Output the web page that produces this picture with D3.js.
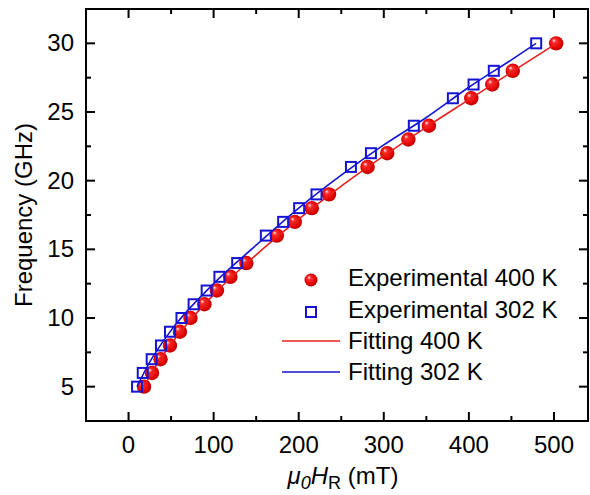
<!DOCTYPE html>
<html>
<head>
<meta charset="utf-8">
<script src="https://cdn.jsdelivr.net/npm/d3@7"></script>
<style>
  body { margin: 0; background: #fff; }
  svg { font-family: "Liberation Sans", Arial, sans-serif; }
</style>
</head>
<body>
<svg id="chart" width="590" height="495"></svg>
<script>
// Data
const freq400 = [5, 6, 7, 8, 9, 10, 11, 12, 13, 14, 16, 17, 18, 19, 21, 22, 23, 24, 26, 27, 28, 30];
const field400 = [18.2, 27.6, 37.6, 48.7, 60.4, 72.8, 89.2, 103.9, 119.7, 138.5, 174.3, 195.4, 215.4, 235.6, 280.9, 304, 328.9, 353, 402.8, 427.5, 451.6, 502.6];

const freq302 = [5, 6, 7, 8, 9, 10, 11, 12, 13, 14, 16, 17, 18, 19, 21, 22, 24, 26, 27, 28, 30];
const field302 = [10, 16.7, 27.2, 38.1, 48.7, 62.2, 76.5, 91.8, 106.8, 127.7, 161.4, 181.7, 200.5, 220.9, 261.4, 284.9, 335.3, 381.2, 405.5, 429.3, 479.1];

// fitted curves
const fitField400 = [18, 30, 50, 100, 150, 200, 250, 300, 350, 400, 450, 503];
const fitFreq400 = [5.0, 6.3, 8.1, 11.7, 14.6, 17.2, 19.6, 21.8, 23.9, 25.9, 27.9, 30.0];
const fitField302 = [10, 25, 50, 100, 150, 200, 250, 300, 350, 400, 450, 479];
const fitFreq302 = [5.0, 6.8, 9.1, 12.5, 15.3, 18.0, 20.4, 22.6, 24.6, 26.8, 28.8, 30.0];

const xTicks = [0, 100, 200, 300, 400, 500];
const xMinor = [50, 150, 250, 350, 450];
const yTicks = [5, 10, 15, 20, 25, 30];
const yMinor = [7.5, 12.5, 17.5, 22.5, 27.5];

const legendLabels = ["Experimental 400 K", "Experimental 302 K", "Fitting 400 K", "Fitting 302 K"];

const red = "#e8201c";
const blue = "#1414d2";

const margin = { top: 9, right: 2, bottom: 74, left: 86 };
const width = 590, height = 495;

let svg = d3.select("#chart");

let x = d3.scaleLinear().domain([-50, 540]).range([margin.left, width - margin.right]);
let y = d3.scaleLinear().domain([2.5, 32.5]).range([height - margin.bottom, margin.top]);

// sphere gradient for the 400 K markers
let defs = svg.append("defs");
let grad = defs.append("radialGradient")
  .attr("id", "ball")
  .attr("cx", "50%").attr("cy", "50%").attr("r", "55%")
  .attr("fx", "32%").attr("fy", "28%");
grad.append("stop").attr("offset", "0%").attr("stop-color", "#fff0f0");
grad.append("stop").attr("offset", "25%").attr("stop-color", "#ff3030");
grad.append("stop").attr("offset", "75%").attr("stop-color", "#e00000");
grad.append("stop").attr("offset", "100%").attr("stop-color", "#a00000");

// Plot frame
let x0 = x.range()[0], x1 = x.range()[1], y0 = y.range()[0], y1 = y.range()[1];
svg.append("rect")
  .attr("x", x0).attr("y", y1)
  .attr("width", x1 - x0).attr("height", y0 - y1)
  .attr("fill", "none").attr("stroke", "#000").attr("stroke-width", 2);

// inward ticks on all four sides
let ticks = svg.append("g").attr("stroke", "#000").attr("stroke-width", 2);
const major = 9, minor = 5;
xTicks.concat(xMinor).forEach(v => {
  let len = xTicks.includes(v) ? major : minor;
  ticks.append("line").attr("x1", x(v)).attr("x2", x(v)).attr("y1", y0).attr("y2", y0 - len);
  ticks.append("line").attr("x1", x(v)).attr("x2", x(v)).attr("y1", y1).attr("y2", y1 + len);
});
yTicks.concat(yMinor).forEach(v => {
  let len = yTicks.includes(v) ? major : minor;
  ticks.append("line").attr("y1", y(v)).attr("y2", y(v)).attr("x1", x0).attr("x2", x0 + len);
  ticks.append("line").attr("y1", y(v)).attr("y2", y(v)).attr("x1", x1).attr("x2", x1 - len);
});

// tick labels
svg.append("g").selectAll("text")
  .data(xTicks)
  .join("text")
  .attr("x", d => x(d))
  .attr("y", 453)
  .attr("text-anchor", "middle")
  .attr("font-size", 24)
  .text(d => d);

svg.append("g").selectAll("text")
  .data(yTicks)
  .join("text")
  .attr("x", 74)
  .attr("y", d => y(d) + 8)
  .attr("text-anchor", "end")
  .attr("font-size", 24)
  .text(d => d);

// axis titles
let xt = svg.append("text")
  .attr("x", 343).attr("y", 484)
  .attr("text-anchor", "middle")
  .attr("font-size", 24);
xt.append("tspan").attr("font-style", "italic").text("\u03bc");
xt.append("tspan").attr("font-style", "italic").attr("font-size", 18).attr("dy", 5).text("0");
xt.append("tspan").attr("font-style", "italic").attr("dy", -5).text("H");
xt.append("tspan").attr("font-size", 18).attr("dy", 5).text("R");
xt.append("tspan").attr("dy", -5).text(" (mT)");

svg.append("text")
  .attr("transform", `translate(32,215) rotate(-90)`)
  .attr("text-anchor", "middle")
  .attr("font-size", 24)
  .text("Frequency (GHz)");

// data
let pts400 = freq400.map((f, i) => ({ h: field400[i], f: f }));
let pts302 = freq302.map((f, i) => ({ h: field302[i], f: f }));
let fit400 = fitFreq400.map((f, i) => ({ h: fitField400[i], f: f }));
let fit302 = fitFreq302.map((f, i) => ({ h: fitField302[i], f: f }));

let line = d3.line().x(d => x(d.h)).y(d => y(d.f)).curve(d3.curveMonotoneX);

let g = svg.append("g");

g.selectAll("circle")
  .data(pts400)
  .join("circle")
  .attr("cx", d => x(d.h))
  .attr("cy", d => y(d.f))
  .attr("r", 7.2)
  .attr("fill", "url(#ball)");

g.append("path").datum(fit400)
  .attr("d", line)
  .attr("fill", "none").attr("stroke", red).attr("stroke-width", 1.6);

g.selectAll("rect.sq")
  .data(pts302)
  .join("rect")
  .attr("class", "sq")
  .attr("x", d => x(d.h) - 5)
  .attr("y", d => y(d.f) - 5)
  .attr("width", 10).attr("height", 10)
  .attr("fill", "none").attr("stroke", blue).attr("stroke-width", 2);

g.append("path").datum(fit302)
  .attr("d", line)
  .attr("fill", "none").attr("stroke", blue).attr("stroke-width", 1.6);

// legend
let leg = svg.append("g");
const rowBase = [286, 318, 349, 380];
leg.append("circle").attr("cx", 311).attr("cy", rowBase[0] - 6).attr("r", 6.5).attr("fill", "url(#ball)");
leg.append("rect").attr("x", 306).attr("y", rowBase[1] - 11).attr("width", 10).attr("height", 10)
  .attr("fill", "none").attr("stroke", blue).attr("stroke-width", 2);
leg.append("line").attr("x1", 282).attr("x2", 340).attr("y1", rowBase[2] - 8).attr("y2", rowBase[2] - 8)
  .attr("stroke", red).attr("stroke-width", 1.6);
leg.append("line").attr("x1", 282).attr("x2", 340).attr("y1", rowBase[3] - 8).attr("y2", rowBase[3] - 8)
  .attr("stroke", blue).attr("stroke-width", 1.6);
leg.selectAll("text")
  .data(legendLabels)
  .join("text")
  .attr("x", 348)
  .attr("y", (d, i) => rowBase[i])
  .attr("font-size", 24)
  .text(d => d);
</script>
</body>
</html>
